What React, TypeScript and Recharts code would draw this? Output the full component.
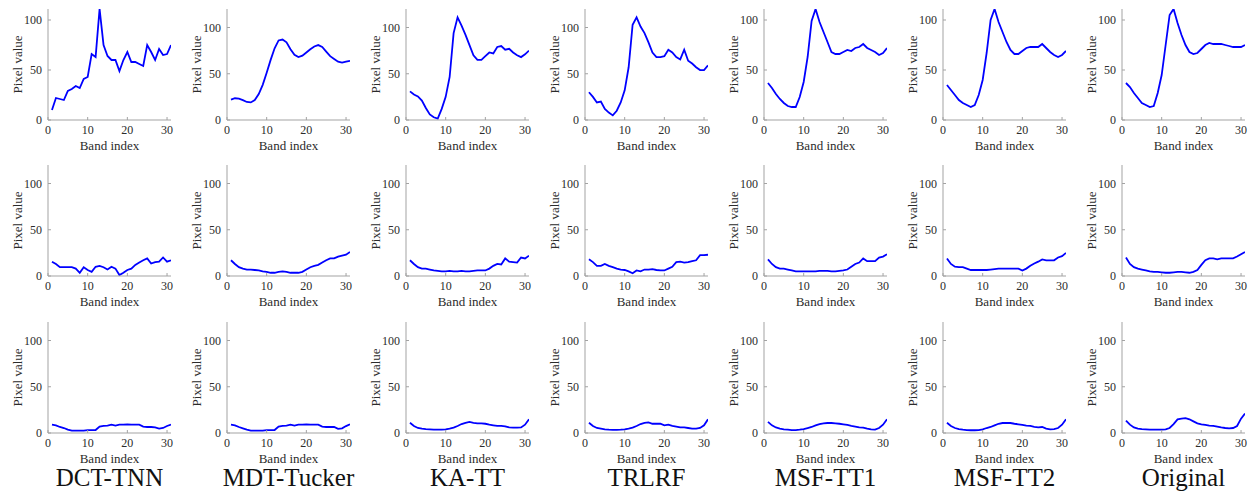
import React from 'react';
import { LineChart, Line, XAxis, YAxis } from 'recharts';

// ---------- categories / ticks ----------
const BANDS = [1, 2, 3, 4, 5, 6, 7, 8, 9, 10, 11, 12, 13, 14, 15, 16, 17, 18, 19, 20, 21, 22, 23, 24, 25, 26, 27, 28, 29, 30, 31];
const X_TICKS = [0, 10, 20, 30];
const Y_TICKS = [0, 50, 100];
const METHODS = ['DCT-TNN', 'MDT-Tucker', 'KA-TT', 'TRLRF', 'MSF-TT1', 'MSF-TT2', 'Original'];

// ---------- row 1 (pixel 1) ----------
const P1_DCT_TNN = [10, 22, 21, 20, 29, 31, 34, 32, 41, 43, 66, 63, 111, 75, 64, 60, 60, 49, 60, 68, 58, 58, 56, 54, 75, 68, 60, 71, 65, 66, 75];
const P1_MDT_TUCKER = [22, 23.5, 23, 21.5, 19.5, 19, 21.5, 28, 38, 51, 65, 77.5, 86, 87, 84, 76.5, 70.5, 68, 69.5, 73, 76.5, 79.5, 81, 79, 74, 69, 66, 63, 62, 63, 64];
const P1_KA_TT = [31, 27.5, 25.5, 21, 13, 6, 3, 1.5, 12, 25, 46.5, 94, 111, 102, 92, 81, 70, 65, 65, 69, 73, 72, 79, 80, 76, 77, 73, 70, 68, 71, 75];
const P1_TRLRF = [30, 25, 19, 20, 12, 8, 5, 10, 19, 32, 57, 103, 111, 101, 94, 84, 73, 68, 68, 69, 76, 73, 68, 65.5, 76, 64, 61, 57, 54, 54, 59];
const P1_MSF_TT1 = [37, 32, 26, 21, 17, 14, 13, 13, 23, 38, 63, 99, 111, 98, 88, 78, 68, 66, 66, 68, 70, 69, 72, 73, 76, 72, 70, 68, 65, 67, 72];
const P1_MSF_TT2 = [35, 30, 25, 20, 17, 15, 13, 15, 25, 40, 67, 100, 111, 98, 88, 78, 70, 66, 66, 69, 72, 73, 73, 73, 76, 72, 68, 65, 63, 65, 69];
const P1_ORIGINAL = [37, 33, 27, 22, 17, 15, 13, 14, 27, 45, 75, 105, 111, 97, 85, 75, 68, 66, 67, 71, 75, 77, 76, 76, 76, 75, 74, 73, 73, 73, 75];

// ---------- row 2 (pixel 2) ----------
const P2_DCT_TNN = [15.5, 13, 9.5, 9.5, 9.5, 9.5, 8, 3.5, 9.5, 6.5, 4.5, 10, 11, 9.5, 7, 10, 8, 1, 3.5, 6.5, 8, 12, 14.5, 17, 19, 13.5, 15, 15.5, 20, 15.5, 17];
const P2_MDT_TUCKER = [17, 13, 9.5, 8, 7, 7, 6.5, 6, 5, 4.5, 3.5, 3.5, 4.5, 5, 4.5, 3.5, 3.5, 3.5, 4.5, 7, 9.5, 11, 12, 14.5, 17, 19, 19, 21, 22, 23, 26];
const P2_KA_TT = [17, 13, 9.5, 8, 8, 7, 6, 5.5, 5, 5, 5.5, 5, 5, 5.5, 5, 5, 5.5, 6, 6, 6, 8, 11, 13, 12.5, 19, 15.5, 15, 14.5, 20, 19, 22];
const P2_TRLRF = [18, 15, 11, 11, 13, 11, 9.5, 8, 7, 6.5, 5, 3, 6, 5, 7, 7, 7.5, 6.5, 6, 6, 8, 10, 15, 15.5, 14.5, 15, 16, 17, 22.5, 22.5, 23];
const P2_MSF_TT1 = [18, 13, 9.5, 8, 8, 7, 6, 5, 5, 5, 5, 5, 5, 5.5, 5.5, 5.5, 5, 5, 5.5, 6, 7, 10, 13, 14.5, 19, 16, 16, 16, 20, 21, 23.5];
const P2_MSF_TT2 = [19, 13, 10, 9.5, 9.5, 8, 6.5, 6.5, 6.5, 6.5, 6.5, 7, 7.5, 8, 8, 8, 8, 8, 8, 6, 8, 11, 13.5, 15.5, 18, 17, 17, 17, 20, 21.5, 25];
const P2_ORIGINAL = [20, 13, 9.5, 8, 7, 6, 5, 4.5, 4.5, 4, 3.5, 3.5, 4, 4.5, 4.5, 4, 3.5, 4.5, 6.5, 12, 17, 19, 19, 18, 19, 19, 19, 19, 21, 23.5, 26];

// ---------- row 3 (pixel 3) ----------
const P3_DCT_TNN = [9, 8.3, 6.5, 5.4, 3.6, 2.5, 2.5, 2.5, 2.5, 3, 3.2, 3.2, 7, 7.6, 8, 9, 8, 9, 9, 9.4, 9, 9, 9, 7, 6.5, 6.5, 6, 4.7, 5.4, 7.6, 9];
const P3_MDT_TUCKER = [9, 8.3, 6.5, 5, 3.6, 2.5, 2.5, 2.5, 2.5, 3, 3.2, 3.2, 7, 7.6, 8, 9, 8, 9, 9, 9.4, 9, 9, 9, 7, 6.5, 6.5, 6.5, 4.5, 5, 7.5, 9.5];
const P3_KA_TT = [11, 7.6, 5.4, 4.7, 4.3, 4, 3.6, 3.6, 3.6, 4, 4.7, 5.8, 7.6, 9.7, 11, 12, 11, 10.5, 10.5, 10, 9, 8.3, 7.6, 7.6, 7.2, 6, 5.8, 5.8, 6, 9, 14.8];
const P3_TRLRF = [11, 7.6, 5.4, 4.7, 4, 3.6, 3.4, 3.4, 3.6, 4, 4.7, 5.8, 7.6, 9.7, 11, 11.5, 10, 10, 10, 8.3, 9, 7.6, 7, 6, 6, 5.4, 4.7, 4.7, 5.4, 8.3, 14.8];
const P3_MSF_TT1 = [12, 8.3, 6, 4.7, 4, 3.6, 3.2, 3.2, 3.6, 4.3, 5.4, 6.5, 8.3, 9.7, 10.5, 10.8, 10.8, 10.5, 10, 9.4, 8.7, 7.6, 7, 6, 5.8, 4.7, 4, 3.6, 5.4, 9, 14.8];
const P3_MSF_TT2 = [11, 7.6, 5.4, 4.3, 3.6, 3.2, 3, 3, 3.2, 4, 5.4, 6.5, 8.3, 10, 10.8, 11, 10.8, 10, 9.4, 8.7, 8, 7.6, 6.5, 6, 6.5, 4.7, 4, 4.3, 5.4, 9, 14.8];
const P3_ORIGINAL = [13.4, 9, 6, 4.7, 4.3, 4, 3.6, 3.6, 3.6, 3.6, 4, 5.4, 9.7, 14.8, 15.5, 16, 14.8, 12.6, 10.5, 9.4, 8.7, 8, 7.6, 7, 6, 5.4, 5, 5.4, 7.6, 15.5, 21];

// y-axis upper limits per panel
const ROW1_YMAX = [111, 120, 120, 120, 111, 111, 111];
const ROW2_YMAX = [120, 120, 120, 120, 120, 120, 120];
const ROW3_YMAX = [120, 120, 120, 120, 120, 120, 120];

const ROWS = [
  [P1_DCT_TNN, P1_MDT_TUCKER, P1_KA_TT, P1_TRLRF, P1_MSF_TT1, P1_MSF_TT2, P1_ORIGINAL],
  [P2_DCT_TNN, P2_MDT_TUCKER, P2_KA_TT, P2_TRLRF, P2_MSF_TT1, P2_MSF_TT2, P2_ORIGINAL],
  [P3_DCT_TNN, P3_MDT_TUCKER, P3_KA_TT, P3_TRLRF, P3_MSF_TT1, P3_MSF_TT2, P3_ORIGINAL],
];
const YMAXES = [ROW1_YMAX, ROW2_YMAX, ROW3_YMAX];

// ---------- layout ----------
const SERIF = 'Liberation Serif, Tinos, Times New Roman, Times, Nimbus Roman, DejaVu Serif, serif';
const BOX = '#a3a3a3';
const TXT = '#2b2b2b';
const COL_LEFT0 = 48;
const COL_STEP = 179;
const PLOT_W = 123;
const PLOT_H = 111;
const ROW_TOPS = [9, 165, 322];
const AXW = 40;
const AXH = 34;
const MT = 4;
const MR = 6;

const XLabel = (props: any) => {
  const vb = props.viewBox || {};
  const cx = (vb.x ?? AXW) + (vb.width ?? PLOT_W) / 2;
  const y = (vb.y ?? MT + PLOT_H) + 30;
  return (
    <text x={cx} y={y} textAnchor="middle" fill={TXT} style={{ fontFamily: SERIF, fontSize: 13 }}>
      Band index
    </text>
  );
};

const YLabel = (props: any) => {
  const vb = props.viewBox || {};
  const cx = (vb.x ?? 0) + 9;
  const cy = (vb.y ?? MT) + (vb.height ?? PLOT_H) / 2;
  return (
    <text
      x={cx}
      y={cy}
      transform={`rotate(-90, ${cx}, ${cy})`}
      textAnchor="middle"
      dominantBaseline="central"
      fill={TXT}
      style={{ fontFamily: SERIF, fontSize: 13 }}
    >
      Pixel value
    </text>
  );
};

function Panel({ values, yMax, plotLeft, plotTop }: { values: number[]; yMax: number; plotLeft: number; plotTop: number }) {
  const data = BANDS.map((band, i) => ({ band, value: values[i] }));
  const tickStyle = { fill: TXT, fontSize: 12, fontFamily: SERIF, style: { fontFamily: SERIF } };
  return (
    <div style={{ position: 'absolute', left: plotLeft - AXW, top: plotTop - MT, fontFamily: SERIF }}>
      <LineChart
        width={AXW + PLOT_W + MR}
        height={MT + PLOT_H + AXH}
        data={data}
        margin={{ top: MT, right: MR, bottom: 0, left: 0 }}
        style={{ fontFamily: SERIF }}
      >
        <XAxis
          dataKey="band"
          type="number"
          domain={[0, 31]}
          ticks={X_TICKS}
          interval={0}
          allowDataOverflow
          height={AXH}
          stroke={BOX}
          tickSize={-3}
          tickMargin={8}
          tick={tickStyle}
          label={XLabel}
        />
        <XAxis
          xAxisId="top"
          orientation="top"
          dataKey="band"
          type="number"
          domain={[0, 31]}
          ticks={X_TICKS}
          interval={0}
          allowDataOverflow
          height={0}
          stroke={BOX}
          tickSize={-3}
          tickFormatter={() => ''}
        />
        <YAxis
          type="number"
          domain={[0, yMax]}
          ticks={Y_TICKS}
          interval={0}
          allowDataOverflow
          width={AXW}
          stroke={BOX}
          tickSize={-3}
          tickMargin={9}
          tick={tickStyle}
          label={YLabel}
        />
        <YAxis
          yAxisId="right"
          orientation="right"
          type="number"
          domain={[0, yMax]}
          ticks={Y_TICKS}
          interval={0}
          allowDataOverflow
          width={0}
          stroke={BOX}
          tickSize={-3}
          tickFormatter={() => ''}
        />
        <Line
          type="linear"
          dataKey="value"
          stroke="#0000ff"
          strokeWidth={1.8}
          dot={false}
          activeDot={false}
          isAnimationActive={false}
        />
      </LineChart>
    </div>
  );
}

export default function App() {
  return (
    <div style={{ position: 'absolute', left: 0, top: 0, width: 1252, height: 493, background: '#ffffff', overflow: 'hidden', fontFamily: SERIF }}>
      {ROWS.map((row, r) =>
        row.map((values, c) => (
          <Panel
            key={`${r}-${c}`}
            values={values}
            yMax={YMAXES[r][c]}
            plotLeft={COL_LEFT0 + c * COL_STEP}
            plotTop={ROW_TOPS[r]}
          />
        ))
      )}
      {METHODS.map((m, c) => (
        <div
          key={m}
          style={{
            position: 'absolute',
            left: COL_LEFT0 + c * COL_STEP - 30,
            width: PLOT_W + 60,
            top: 465,
            textAlign: 'center',
            fontFamily: SERIF,
            fontSize: 25,
            lineHeight: '26px',
            color: '#111',
          }}
        >
          {m}
        </div>
      ))}
    </div>
  );
}
